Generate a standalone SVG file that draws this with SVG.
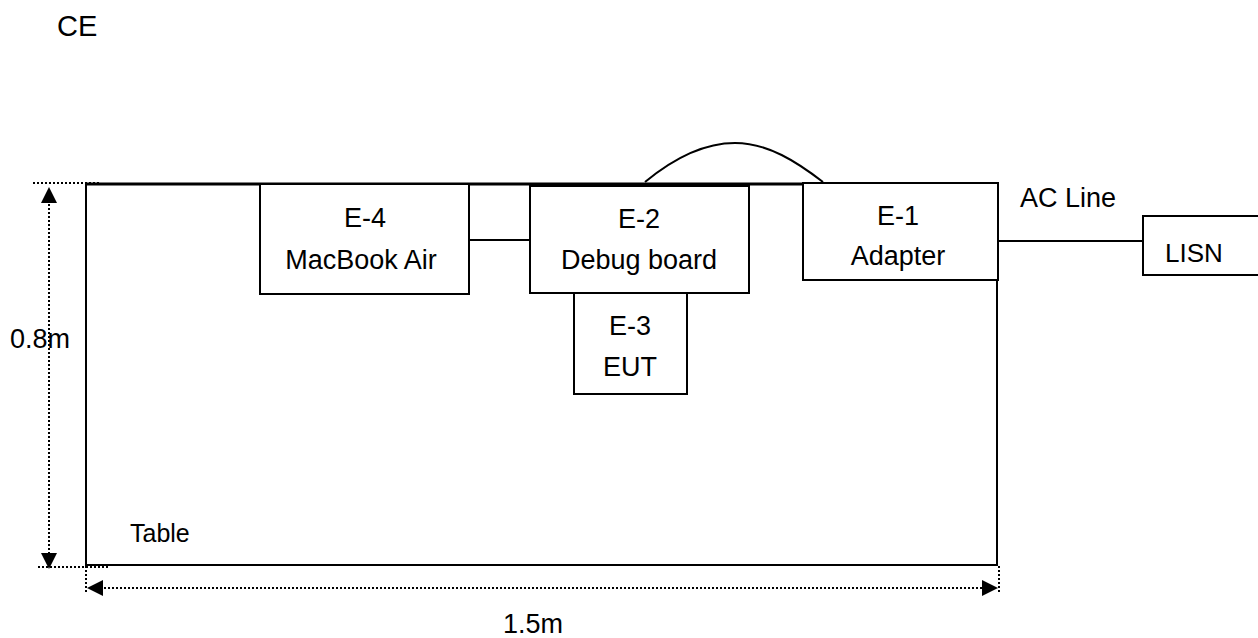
<svg xmlns="http://www.w3.org/2000/svg" width="1258" height="638" viewBox="0 0 1258 638">
  <style>
    .box { fill: #ffffff; stroke: #000000; stroke-width: 2; }
    .line { fill: none; stroke: #000000; stroke-width: 2; }
    .dot { fill: none; stroke: #000000; stroke-width: 2; stroke-dasharray: 2 2; }
    .head { fill: #000000; stroke: none; }
    text { font-family: "Liberation Sans", Arial, sans-serif; fill: #000000; }
    .t27 { font-size: 27px; }
    .mid { text-anchor: middle; }
  </style>
  <rect width="1258" height="638" fill="#ffffff"/>

  <text x="57" y="36" style="font-size:29px">CE</text>

  <g id="table">
    <rect class="box" x="86" y="184" width="911" height="381"/>
    <line class="line" x1="86" y1="184" x2="997" y2="184" style="stroke-width:3"/>
    <text x="130" y="542" style="font-size:25px">Table</text>
  </g>

  <g id="connectors">
    <line class="line" x1="469" y1="240" x2="530" y2="240"/>
    <path class="line" d="M645,182 C668,163 700,143 735,143 C768,143 797,162 823,182"/>
    <line class="line" x1="998" y1="241" x2="1143" y2="241"/>
  </g>

  <g id="E-4">
    <rect class="box" x="260" y="184" width="209" height="110"/>
    <text class="t27 mid" x="365" y="227">E-4</text>
    <text class="t27 mid" x="361" y="269">MacBook Air</text>
  </g>

  <g id="E-2">
    <rect class="box" x="530" y="186" width="219" height="107"/>
    <text class="t27 mid" x="639" y="228">E-2</text>
    <text class="t27 mid" x="639" y="269">Debug board</text>
  </g>

  <g id="E-3">
    <rect class="box" x="574" y="293" width="113" height="101"/>
    <text class="t27 mid" x="630" y="335">E-3</text>
    <text class="t27 mid" x="630" y="376">EUT</text>
  </g>

  <g id="E-1">
    <rect class="box" x="803" y="183" width="195" height="97"/>
    <text class="t27 mid" x="898" y="225">E-1</text>
    <text class="t27 mid" x="898" y="265">Adapter</text>
  </g>

  <g id="LISN">
    <rect class="box" x="1143" y="216" width="130" height="59"/>
    <text x="1165" y="262" style="font-size:26px">LISN</text>
  </g>

  <text class="t27" x="1020" y="207">AC Line</text>

  <g id="dim-height">
    <line class="dot" x1="33" y1="183" x2="100" y2="183"/>
    <line class="dot" x1="38" y1="567" x2="108" y2="567"/>
    <line class="dot" x1="49" y1="200" x2="49" y2="556"/>
    <polygon class="head" points="49,187 41,203 57,203"/>
    <polygon class="head" points="49,569 41,553 57,553"/>
    <text class="t27" x="10" y="348">0.8m</text>
  </g>

  <g id="dim-width">
    <line class="dot" x1="86" y1="566" x2="86" y2="592"/>
    <line class="dot" x1="999" y1="566" x2="999" y2="592"/>
    <line class="dot" x1="100" y1="588" x2="985" y2="588"/>
    <polygon class="head" points="87,588 103,580 103,596"/>
    <polygon class="head" points="998,588 982,580 982,596"/>
    <text class="t27" x="503" y="633">1.5m</text>
  </g>
</svg>
